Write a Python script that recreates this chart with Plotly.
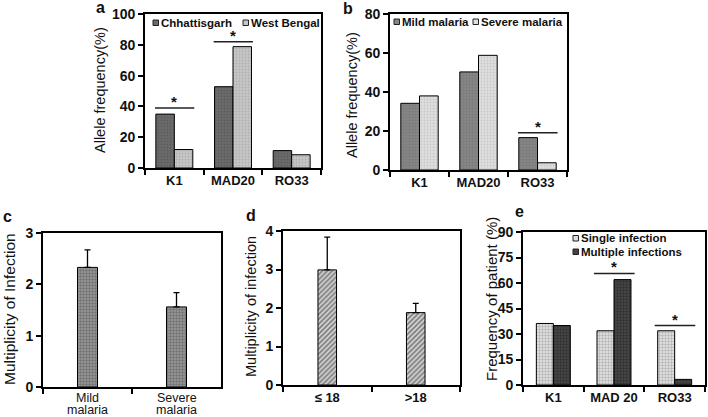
import plotly.graph_objects as go

# panel a / b : allele frequencies
alleles = ["K1", "MAD20", "RO33"]
chhattisgarh = [35.0, 52.8, 11.3]
west_bengal = [12.0, 78.8, 8.6]
mild_malaria = [34.2, 50.3, 16.6]
severe_malaria = [38.0, 58.8, 3.7]

# panel c / d : multiplicity of infection
severity_groups = ["Mild malaria", "Severe malaria"]
moi_severity = [2.33, 1.56]
moi_severity_err = [0.34, 0.28]
age_groups = ["≤ 18", ">18"]
moi_age = [2.99, 1.88]
moi_age_err = [0.85, 0.24]

# panel e : frequency of patients
alleles_e = ["K1", "MAD 20", "RO33"]
single_infection = [36.2, 31.9, 31.9]
multiple_infections = [35.0, 62.0, 3.3]

# significance bars (category index, height)
sig_a_idx, sig_a_y = [0, 1], [39, 82]
sig_b_idx, sig_b_y = [2], [19.1]
sig_e_idx, sig_e_y = [1, 2], [65.6, 35]

W, H = 708, 417
FONT = "Liberation Sans, Arial, sans-serif"
INK = "#111111"


def xd(a, b):
    return [a / W, b / W]


def yd(top, bottom):
    return [1 - bottom / H, 1 - top / H]


def pat(shape, bg, fg, size=3, sol=0.35):
    return dict(shape=shape, bgcolor=bg, fgcolor=fg, size=size, solidity=sol)


line = dict(color="black", width=1)
fig = go.Figure()

# a
fig.add_bar(x=alleles, y=chhattisgarh, width=0.315, offset=-0.315, xaxis="x", yaxis="y",
            marker=dict(pattern=pat(".", "#6a6a6a", "#505050"), line=line))
fig.add_bar(x=alleles, y=west_bengal, width=0.315, offset=0, xaxis="x", yaxis="y",
            marker=dict(pattern=pat(".", "#c6c6c6", "#9a9a9a"), line=line))
# b
fig.add_bar(x=alleles, y=mild_malaria, width=0.317, offset=-0.317, xaxis="x2", yaxis="y2",
            marker=dict(pattern=pat(".", "#858585", "#6e6e6e"), line=line))
fig.add_bar(x=alleles, y=severe_malaria, width=0.317, offset=0, xaxis="x2", yaxis="y2",
            marker=dict(pattern=pat(".", "#dedede", "#b4b4b4"), line=line))
# c
fig.add_bar(x=severity_groups, y=moi_severity, width=0.225, xaxis="x3", yaxis="y3",
            marker=dict(pattern=pat(".", "#9a9a9a", "#4a4a4a", 3, 0.5), line=line),
            error_y=dict(type="data", symmetric=False, array=moi_severity_err, arrayminus=[0, 0],
                         color="black", thickness=1.3, width=3))
# d
fig.add_bar(x=age_groups, y=moi_age, width=0.21, xaxis="x4", yaxis="y4",
            marker=dict(pattern=pat("/", "#eeeeee", "#1a1a1a", 3.5, 0.65), line=line),
            error_y=dict(type="data", symmetric=False, array=moi_age_err, arrayminus=[0, 0],
                         color="black", thickness=1.3, width=3))
# e
fig.add_bar(x=alleles_e, y=single_infection, width=0.28, offset=-0.28, xaxis="x5", yaxis="y5",
            marker=dict(pattern=pat("+", "#dcdcdc", "#858585", 3, 0.35), line=line))
fig.add_bar(x=alleles_e, y=multiple_infections, width=0.28, offset=0, xaxis="x5", yaxis="y5",
            marker=dict(pattern=pat("+", "#444444", "#1c1c1c", 3, 0.35), line=line))

panels = {
    "": dict(x=xd(145, 321), y=yd(14, 168), r=[0, 100], d=20, lab=True),
    "2": dict(x=xd(390, 567), y=yd(14, 170), r=[0, 80], d=20, lab=True),
    "3": dict(x=xd(43, 221), y=yd(233, 387), r=[0, 3], d=1, lab=False),
    "4": dict(x=xd(283, 460), y=yd(231, 385), r=[0, 4], d=1, lab=True),
    "5": dict(x=xd(523, 705), y=yd(232, 385), r=[0, 90], d=15, lab=True),
}

layout = dict(
    width=W, height=H, margin=dict(l=0, r=0, t=0, b=0, autoexpand=False),
    paper_bgcolor="white", plot_bgcolor="white", showlegend=False,
    font=dict(family=FONT, color=INK),
)
for k, p in panels.items():
    axline = dict(showline=True, linecolor="black", linewidth=1.6, mirror=True,
                  showgrid=False, zeroline=False, ticks="outside", ticklen=5,
                  tickwidth=1.5, tickcolor="black")
    layout["xaxis" + k] = dict(axline, domain=p["x"], anchor="y" + k, type="category",
                               tickson="boundaries", showticklabels=p["lab"],
                               tickfont=dict(size=13, weight="bold", family=FONT, color=INK))
    layout["yaxis" + k] = dict(axline, domain=p["y"], anchor="x" + k, range=p["r"], dtick=p["d"],
                               tickfont=dict(size=14, weight="bold", family=FONT, color=INK))
fig.update_layout(**layout)

ann = []
shapes = []


def paper_text(text, px, py, size, bold=False, angle=0, xanchor="center"):
    ann.append(dict(text=text, x=px / W, y=1 - py / H, xref="paper", yref="paper",
                    showarrow=False, textangle=angle, xanchor=xanchor, yanchor="middle",
                    font=dict(family=FONT, size=size, color=INK,
                              weight="bold" if bold else "normal")))


# panel letters
for t, px, py in [("a", 100, 8), ("b", 348, 9), ("c", 7, 216), ("d", 251, 215), ("e", 519, 212)]:
    paper_text(t, px, py, 16, bold=True)

# y axis titles
paper_text("Allele frequency(%)", 100, 90, 14.5, angle=-90)
paper_text("Allele frequency(%)", 352, 95, 14.5, angle=-90)
paper_text("Multiplicity of Infection", 9, 309, 15.5, angle=-90)
paper_text("Multiplicity of infection", 251, 307, 14.5, angle=-90)
paper_text("Frequency of patient (%)", 491, 299, 15, angle=-90)

# two-line category labels of panel c, one line per annotation
for cat in severity_groups:
    first, second = cat.split(" ")
    for txt, py in [(first, 398), (second, 410)]:
        ann.append(dict(text=txt, x=cat, xref="x3", y=1 - py / H, yref="paper",
                        showarrow=False, yanchor="middle", borderpad=0,
                        font=dict(family=FONT, size=12.5, color=INK)))

# legends drawn inside the panels
legend_items = [
    ("Chhattisgarh", 153, 22.5, "#6a6a6a"),
    ("West Bengal", 243, 22.5, "#c6c6c6"),
    ("Mild malaria", 394, 21.5, "#858585"),
    ("Severe malaria", 473, 21.5, "#dedede"),
    ("Single infection", 573, 238, "#dcdcdc"),
    ("Multiple infections", 573, 251.5, "#444444"),
]
for text, px, py, col in legend_items:
    shapes.append(dict(type="rect", xref="paper", yref="paper",
                       x0=px / W, x1=(px + 5.5) / W, y0=1 - (py + 3) / H, y1=1 - (py - 2.5) / H,
                       fillcolor=col, line=dict(color="#222", width=1)))
    paper_text(text, px + 6, py, 11.5, bold=True, xanchor="left")

# significance markers
for k, idx, ys in [("", sig_a_idx, sig_a_y), ("2", sig_b_idx, sig_b_y), ("5", sig_e_idx, sig_e_y)]:
    for i, yv in zip(idx, ys):
        shapes.append(dict(type="line", xref="x" + k, yref="y" + k, x0=i - 0.33, x1=i + 0.34,
                           y0=yv, y1=yv, line=dict(color="#222", width=1.5)))
        ann.append(dict(text="*", x=i, y=yv, xref="x" + k, yref="y" + k, showarrow=False,
                        yanchor="bottom", yshift=-4,
                        font=dict(family=FONT, size=15, weight="bold", color=INK)))

fig.update_layout(annotations=ann, shapes=shapes)
# the page body has a default 8px margin; drop it so the 708x417 figure fills the window
fig.write_html("out.html", config={"displayModeBar": False},
               post_script="document.body.style.margin='0';")
